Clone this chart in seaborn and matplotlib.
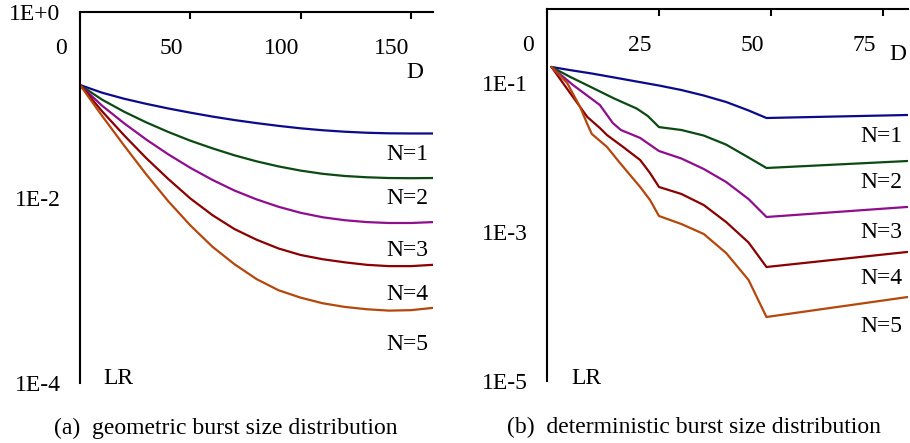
import pandas as pd
import matplotlib
matplotlib.use('Agg')
import matplotlib.pyplot as plt
import matplotlib.transforms as mtransforms
from matplotlib.ticker import NullLocator
import seaborn as sns

# (a) geometric burst size distribution, loss rate vs D
d_geo = [0, 10, 20, 30, 40, 50, 60, 70, 80, 90, 100, 110, 120, 130, 140, 150, 160]
geo_n1 = [0.1633, 0.1349, 0.1161, 0.1023, 0.0912, 0.0822, 0.0746, 0.0684, 0.0634,
          0.0592, 0.0557, 0.0531, 0.0512, 0.0499, 0.0492, 0.0490, 0.0490]
geo_n2 = [0.1633, 0.1135, 0.0841, 0.0646, 0.0509, 0.0410, 0.0339, 0.0285, 0.02455,
          0.02163, 0.0195, 0.0180, 0.01706, 0.01652, 0.01622, 0.01614, 0.01622]
geo_n3 = [0.1633, 0.0977, 0.0631, 0.0422, 0.0292, 0.0209, 0.01549, 0.01189,
          0.00955, 0.00794, 0.00684, 0.00612, 0.00569, 0.00543, 0.00531, 0.00531,
          0.00543]
geo_n4 = [0.1633, 0.0851, 0.0468, 0.0266, 0.01585, 0.00977, 0.00646, 0.00457,
          0.00351, 0.00282, 0.00240, 0.00216, 0.00200, 0.00188, 0.00182, 0.00182,
          0.00188]
geo_n5 = [0.1633, 0.0759, 0.0363, 0.01778, 0.00912, 0.00501, 0.00295, 0.00191,
          0.00132, 0.00100, 0.000832, 0.000724, 0.000661, 0.000624, 0.000603,
          0.000610, 0.000646]

# (b) deterministic burst size distribution
d_det_n1 = [1, 5, 10, 15, 20, 25, 30, 35, 40, 45, 49, 80.5]
det_n1 = [0.1641, 0.1495, 0.1341, 0.1186, 0.1047, 0.0925, 0.0805, 0.0679, 0.0556,
          0.0428, 0.0339, 0.0372]
d_det_n2 = [1, 5, 10, 15, 20, 22.5, 25, 30, 35, 40, 45, 49, 80.5]
det_n2 = [0.1641, 0.1222, 0.0871, 0.0619, 0.0455, 0.0361, 0.0256, 0.0234, 0.0197,
          0.0149, 0.0100, 0.00723, 0.00897]
d_det_n3 = [1, 5.8, 11.8, 14.7, 16.5, 20.8, 25, 30, 35, 40, 45, 49, 80.5]
det_n3 = [0.1641, 0.0940, 0.0507, 0.0290, 0.0234, 0.0183, 0.01222, 0.00970,
          0.00701, 0.00469, 0.00277, 0.00159, 0.00217]
d_det_n4 = [1, 5, 9, 11.8, 13.4, 17, 20.8, 23, 25, 30, 35, 40, 45, 49, 80.5]
det_n4 = [0.1641, 0.0757, 0.0350, 0.0249, 0.0200, 0.01384, 0.00925, 0.00619,
          0.00402, 0.00324, 0.00230, 0.00136, 0.000723, 0.000339, 0.000540]
d_det_n5 = [1, 4.5, 7.4, 8.9, 10, 13.4, 16.3, 20.8, 23, 25, 30, 35, 40, 45, 49, 80.5]
det_n5 = [0.1641, 0.100, 0.0476, 0.0290, 0.0207, 0.01384, 0.00843, 0.00402,
          0.00269, 0.00164, 0.00128, 0.000940, 0.000522, 0.000227, 0.0000723,
          0.000134]

n_labels = ['N=1', 'N=2', 'N=3', 'N=4', 'N=5']
line_colors = ['#0a0a8c', '#0b4a12', '#8e0e8e', '#8b0000', '#b5470c']

geo_ticks = [0, 50, 100, 150]
det_ticks = [0, 25, 50, 75]
geo_yticks = [1, 1e-2, 1e-4]
geo_ylabels = ['1E+0', '1E-2', '1E-4']
det_yticks = [1e-1, 1e-3, 1e-5]
det_ylabels = ['1E-1', '1E-3', '1E-5']

W, H = 910, 443
FS = 17


def long_frame(ds, ys):
    rows = []
    for lab, d, y in zip(n_labels, ds, ys):
        for a, b in zip(d, y):
            rows.append({'D': a, 'LR': b, 'N': lab})
    return pd.DataFrame(rows)


def px(x, y):
    # pixel position -> figure fraction
    return x / W, 1 - y / H


def panel(ax, frame, xmax, ymin, xticks, yticks, ylabels):
    sns.lineplot(data=frame, x='D', y='LR', hue='N', palette=line_colors,
                 estimator=None, sort=False, linewidth=1.6, legend=False, ax=ax)
    ax.set_yscale('log')
    ax.set_xlim(0, xmax)
    ax.set_ylim(ymin, 1)
    ax.set_xlabel('')
    ax.set_ylabel('')
    ax.set_yticks(yticks, ylabels)
    ax.yaxis.set_minor_locator(NullLocator())
    ax.set_xticks(xticks)
    ax.xaxis.set_ticks_position('top')
    ax.tick_params(axis='x', direction='in', length=5, width=1.5, color='black',
                   labeltop=False, labelbottom=False)
    ax.tick_params(axis='y', direction='out', length=6, width=1.5, pad=8,
                   labelsize=FS, colors='black')
    for s in ['right', 'bottom']:
        ax.spines[s].set_visible(False)
    for s in ['left', 'top']:
        ax.spines[s].set_linewidth(1.5)
        ax.spines[s].set_color('black')
    # tick labels sit under the top axis, a bit left of each tick
    trans = mtransforms.blended_transform_factory(ax.transData, ax.transAxes)
    off = mtransforms.ScaledTranslation(-19 / 100, -37 / 100, fig.dpi_scale_trans)
    for t in xticks:
        ax.text(t, 1, str(t), transform=trans + off, ha='center', va='center',
                fontsize=FS, color='black', clip_on=False)


sns.set_style('white')
plt.rcParams['font.family'] = ['Liberation Serif', 'DejaVu Serif']
plt.rcParams['text.color'] = 'black'

fig = plt.figure(figsize=(W / 100, H / 100), dpi=100)
ax1 = fig.add_axes([80 / W, 1 - 383 / H, 353 / W, 371 / H])
ax2 = fig.add_axes([547 / W, 1 - 381 / H, 361 / W, 372.5 / H])

geo = long_frame([d_geo] * 5, [geo_n1, geo_n2, geo_n3, geo_n4, geo_n5])
det = long_frame([d_det_n1, d_det_n2, d_det_n3, d_det_n4, d_det_n5],
                 [det_n1, det_n2, det_n3, det_n4, det_n5])

panel(ax1, geo, 160, 1e-4, geo_ticks, geo_yticks, geo_ylabels)
panel(ax2, det, 80.6, 1e-5, det_ticks, det_yticks, det_ylabels)

# axis names
fig.text(*px(415, 73), 'D', ha='center', va='center', fontsize=FS)
fig.text(*px(898, 55), 'D', ha='center', va='center', fontsize=FS)
fig.text(*px(118, 379), 'LR', ha='center', va='center', fontsize=FS)
fig.text(*px(586, 378), 'LR', ha='center', va='center', fontsize=FS)

# curve labels
for lab, y in zip(n_labels, [155, 198, 250, 295, 345]):
    fig.text(*px(428, y), lab, ha='right', va='center', fontsize=FS)
for lab, y in zip(n_labels, [137, 182, 232, 278, 326]):
    fig.text(*px(902, y), lab, ha='right', va='center', fontsize=FS)

# captions
fig.text(*px(226, 428), '(a)  geometric burst size distribution',
         ha='center', va='center', fontsize=FS)
fig.text(*px(694, 427), '(b)  deterministic burst size distribution',
         ha='center', va='center', fontsize=FS)

plt.savefig('out.png', dpi=100)
